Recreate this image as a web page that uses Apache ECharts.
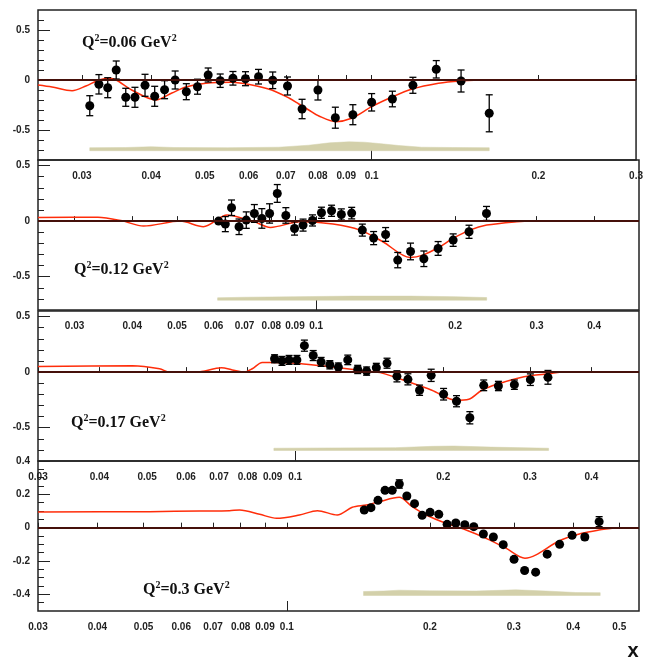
<!DOCTYPE html>
<html lang="en">
<head>
    <meta charset="UTF-8">
    <title>asymmetry vs x</title>
    <style>
        html, body { margin: 0; padding: 0; background: #fff; }
    </style>
</head>
<body>

<div id="main" style="width: 646px; height: 659px;"></div>

<script src="https://cdn.jsdelivr.net/npm/echarts@6/dist/echarts.min.js"></script>
<script>
    // ---- Q2 = 0.06 GeV2 ----
    var q1X = [0.031, 0.0322, 0.0334, 0.0346, 0.036, 0.0374, 0.039, 0.0406, 0.0423, 0.0442, 0.0463, 0.0485, 0.0507, 0.0533, 0.0562, 0.0592, 0.0625, 0.0663, 0.0705, 0.0749, 0.08, 0.086, 0.0925, 0.1, 0.109, 0.1187, 0.1308, 0.145, 0.163];
    var q1Y = [-0.257, -0.043, -0.077, 0.10, -0.173, -0.173, -0.053, -0.163, -0.097, 0.0, -0.117, -0.067, 0.05, -0.007, 0.017, 0.013, 0.033, -0.003, -0.06, -0.29, -0.1, -0.377, -0.347, -0.223, -0.19, -0.053, 0.107, -0.01, -0.333];
    var q1E = [0.1, 0.097, 0.1, 0.09, 0.09, 0.1, 0.11, 0.1, 0.09, 0.09, 0.08, 0.075, 0.07, 0.067, 0.068, 0.07, 0.073, 0.083, 0.09, 0.097, 0.1, 0.105, 0.1, 0.087, 0.078, 0.08, 0.087, 0.11, 0.185];
    var c1X = [0.025, 0.0265, 0.0288, 0.0305, 0.0322, 0.0336, 0.0346, 0.0369, 0.0408, 0.0436, 0.0462, 0.0502, 0.0559, 0.0608, 0.066, 0.0709, 0.0739, 0.077, 0.0803, 0.0861, 0.092, 0.1, 0.1086, 0.118, 0.132, 0.1446, 0.1605, 0.1766];
    var c1Y = [-0.05, -0.07, -0.107, -0.06, 0.0, 0.017, 0.0, -0.1, -0.2, -0.13, -0.07, -0.033, -0.023, -0.05, -0.1, -0.18, -0.24, -0.3, -0.36, -0.417, -0.383, -0.267, -0.173, -0.093, -0.033, -0.01, 0.0, 0.0];
    var b1X = [0.031, 0.036, 0.040, 0.044, 0.055, 0.068, 0.077, 0.084, 0.091, 0.097, 0.103, 0.112, 0.123, 0.14, 0.163];
    var b1Hi = [-0.677, -0.675, -0.667, -0.675, -0.677, -0.672, -0.652, -0.628, -0.618, -0.622, -0.635, -0.655, -0.672, -0.675, -0.677];
    var b1Lo = [-0.707, -0.707, -0.707, -0.707, -0.707, -0.707, -0.707, -0.707, -0.707, -0.707, -0.707, -0.707, -0.707, -0.707, -0.707];

    // ---- Q2 = 0.12 GeV2 ----
    var q2X = [0.0615, 0.0636, 0.0656, 0.0681, 0.0706, 0.0735, 0.0763, 0.0793, 0.0824, 0.086, 0.0898, 0.0937, 0.0982, 0.1027, 0.108, 0.1134, 0.1194, 0.1259, 0.1332, 0.1414, 0.1502, 0.1601, 0.1711, 0.1837, 0.198, 0.2143, 0.2338];
    var q2Y = [0.0, -0.027, 0.12, -0.051, 0.009, 0.069, 0.024, 0.069, 0.249, 0.051, -0.066, -0.036, 0.006, 0.075, 0.093, 0.06, 0.072, -0.081, -0.153, -0.12, -0.351, -0.273, -0.339, -0.246, -0.171, -0.096, 0.069];
    var q2E = [0.02, 0.068, 0.07, 0.07, 0.074, 0.08, 0.088, 0.087, 0.08, 0.07, 0.06, 0.054, 0.05, 0.05, 0.05, 0.05, 0.052, 0.054, 0.059, 0.062, 0.069, 0.075, 0.07, 0.062, 0.056, 0.059, 0.063];
    var c2X = [0.025, 0.0337, 0.038, 0.0423, 0.0508, 0.057, 0.0642, 0.0695, 0.0731, 0.0796, 0.0923, 0.1088, 0.1245, 0.1395, 0.1596, 0.1702, 0.1853, 0.1977, 0.2151, 0.234, 0.2717, 0.2943, 0.34];
    var c2Y = [0.033, 0.035, 0.003, -0.045, 0.0, -0.05, 0.054, 0.024, 0.0, -0.057, -0.006, -0.027, -0.081, -0.186, -0.327, -0.306, -0.231, -0.156, -0.081, -0.036, -0.006, 0.0, 0.0];
    var b2X = [0.0612, 0.07, 0.09, 0.12, 0.16, 0.2, 0.234];
    var b2Hi = [-0.69, -0.685, -0.68, -0.675, -0.675, -0.68, -0.688];
    var b2Lo = [-0.712, -0.712, -0.712, -0.712, -0.712, -0.712, -0.712];

    // ---- Q2 = 0.17 GeV2 ----
    var q3X = [0.0908, 0.094, 0.0972, 0.1008, 0.1044, 0.1088, 0.1129, 0.1176, 0.1224, 0.1279, 0.134, 0.1397, 0.1462, 0.1537, 0.161, 0.1695, 0.179, 0.189, 0.2003, 0.2128, 0.2265, 0.2417, 0.2589, 0.279, 0.3007, 0.3265];
    var q3Y = [0.12, 0.101, 0.11, 0.11, 0.238, 0.149, 0.092, 0.066, 0.045, 0.11, 0.024, 0.009, 0.039, 0.08, -0.038, -0.065, -0.163, -0.029, -0.199, -0.262, -0.411, -0.119, -0.125, -0.113, -0.068, -0.047];
    var q3E = [0.036, 0.04, 0.04, 0.04, 0.05, 0.045, 0.04, 0.037, 0.037, 0.043, 0.037, 0.037, 0.04, 0.045, 0.05, 0.05, 0.046, 0.055, 0.052, 0.05, 0.055, 0.048, 0.042, 0.042, 0.052, 0.062];
    var c3X = [0.03, 0.0467, 0.053, 0.0555, 0.063, 0.0708, 0.0745, 0.0788, 0.0818, 0.0857, 0.0915, 0.1019, 0.1189, 0.1393, 0.1502, 0.1703, 0.1896, 0.2121, 0.2254, 0.2395, 0.2593, 0.2808, 0.3025, 0.3275, 0.348];
    var c3Y = [0.051, 0.057, 0.03, 0.0, 0.0, 0.039, 0.02, 0.0, 0.03, 0.087, 0.087, 0.078, 0.045, 0.009, -0.009, -0.089, -0.163, -0.253, -0.244, -0.163, -0.104, -0.059, -0.03, -0.015, 0.0];
    var b3X = [0.0905, 0.12, 0.16, 0.19, 0.21, 0.25, 0.3275];
    var b3Hi = [-0.685, -0.682, -0.68, -0.668, -0.665, -0.675, -0.685];
    var b3Lo = [-0.705, -0.705, -0.705, -0.705, -0.705, -0.705, -0.705];

    // ---- Q2 = 0.3 GeV2 ----
    var q4X = [0.1455, 0.1503, 0.1555, 0.1609, 0.1666, 0.1724, 0.1788, 0.1856, 0.1926, 0.2001, 0.2087, 0.2173, 0.2266, 0.2367, 0.2472, 0.259, 0.2718, 0.2851, 0.3004, 0.3162, 0.3335, 0.3527, 0.3745, 0.3979, 0.4231, 0.4535];
    var q4Y = [0.106, 0.12, 0.164, 0.224, 0.224, 0.262, 0.19, 0.144, 0.074, 0.092, 0.08, 0.02, 0.028, 0.018, 0.006, -0.038, -0.056, -0.102, -0.19, -0.257, -0.267, -0.159, -0.1, -0.046, -0.056, 0.036];
    var q4E = [0.012, 0.012, 0.012, 0.012, 0.012, 0.025, 0.012, 0.012, 0.012, 0.012, 0.012, 0.012, 0.012, 0.012, 0.012, 0.012, 0.012, 0.012, 0.012, 0.012, 0.012, 0.012, 0.012, 0.012, 0.016, 0.03];
    var c4X = [0.03, 0.0515, 0.0656, 0.0758, 0.0796, 0.0877, 0.0952, 0.1063, 0.116, 0.1277, 0.1373, 0.147, 0.1565, 0.1723, 0.1835, 0.1963, 0.2163, 0.2382, 0.2624, 0.2889, 0.3167, 0.3341, 0.3733, 0.4172, 0.4528, 0.4916];
    var c4Y = [0.094, 0.096, 0.1, 0.102, 0.106, 0.08, 0.056, 0.076, 0.102, 0.076, 0.122, 0.136, 0.156, 0.182, 0.126, 0.076, 0.026, -0.014, -0.064, -0.123, -0.183, -0.163, -0.08, -0.034, -0.014, 0.0];
    var b4X = [0.145, 0.16, 0.1723, 0.2, 0.25, 0.303, 0.35, 0.405, 0.4558];
    var b4Hi = [-0.383, -0.38, -0.375, -0.379, -0.38, -0.373, -0.38, -0.389, -0.39];
    var b4Lo = [-0.407, -0.407, -0.407, -0.407, -0.407, -0.407, -0.407, -0.407, -0.407];

    // axis ranges and ticks
    var xRanges = [[0.025, 0.3], [0.025, 0.5], [0.03, 0.5], [0.03, 0.55]];
    var yRanges = [[-0.8, 0.7], [-0.8, 0.55], [-0.8, 0.55], [-0.5, 0.4]];
    var xTicks1 = [0.03, 0.04, 0.05, 0.06, 0.07, 0.08, 0.09, 0.1, 0.2, 0.3];
    var xTicks2 = [0.03, 0.04, 0.05, 0.06, 0.07, 0.08, 0.09, 0.1, 0.2, 0.3, 0.4];
    var xTicks4 = [0.03, 0.04, 0.05, 0.06, 0.07, 0.08, 0.09, 0.1, 0.2, 0.3, 0.4, 0.5];
    var yMajor = [-0.5, 0, 0.5];
    var yMajor4 = [-0.4, -0.2, 0, 0.2, 0.4];
    var yMinor1 = [-0.7, -0.6, -0.5, -0.4, -0.3, -0.2, -0.1, 0, 0.1, 0.2, 0.3, 0.4, 0.5, 0.6];
    var yMinor2 = [-0.7, -0.6, -0.5, -0.4, -0.3, -0.2, -0.1, 0, 0.1, 0.2, 0.3, 0.4, 0.5];
    var yMinor4 = [-0.45, -0.4, -0.35, -0.3, -0.25, -0.2, -0.15, -0.1, -0.05, 0, 0.05, 0.1, 0.15, 0.2, 0.25, 0.3, 0.35];
    var qLabels = ['0.06', '0.12', '0.17', '0.3'];

    var panels = [
        {px: q1X, py: q1Y, pe: q1E, cx: c1X, cy: c1Y, bx: b1X, bhi: b1Hi, blo: b1Lo, xt: xTicks1, ym: yMajor, yn: yMinor1, qx: 82, qy: 43},
        {px: q2X, py: q2Y, pe: q2E, cx: c2X, cy: c2Y, bx: b2X, bhi: b2Hi, blo: b2Lo, xt: xTicks2, ym: yMajor, yn: yMinor2, qx: 74, qy: 270},
        {px: q3X, py: q3Y, pe: q3E, cx: c3X, cy: c3Y, bx: b3X, bhi: b3Hi, blo: b3Lo, xt: xTicks2, ym: yMajor, yn: yMinor2, qx: 71, qy: 423},
        {px: q4X, py: q4Y, pe: q4E, cx: c4X, cy: c4Y, bx: b4X, bhi: b4Hi, blo: b4Lo, xt: xTicks4, ym: yMajor4, yn: yMinor4, qx: 143, qy: 590}
    ];
    var gridTops = [10, 160, 311, 461];

    var axisFont = {fontFamily: 'Liberation Sans', fontWeight: 'bold', fontSize: 10, color: '#222'};
    var tickLine = {color: '#222', width: 1};

    function fmtLog(v) {
        return String(parseFloat(Math.pow(10, v).toPrecision(3)));
    }

    var grids = [], xAxes = [], yAxes = [], series = [], graphics = [];

    panels.forEach(function (p, i) {
        var xr = xRanges[i], yr = yRanges[i];
        var logTicks = p.xt.map(function (t) { return Math.log10(t); });

        grids.push({left: 38, right: 7, top: gridTops[i], height: 150,
            show: true, borderColor: '#222', borderWidth: 1.5});

        // data axis (log)
        xAxes.push({gridIndex: i, type: 'log', logBase: 10, min: xr[0], max: xr[1],
            axisLine: {show: false}, axisTick: {show: false}, axisLabel: {show: false}, splitLine: {show: false}});
        // tick labels 0.03 0.04 ... drawn on a helper axis in log10 units
        xAxes.push({gridIndex: i, type: 'value', position: 'bottom',
            min: Math.log10(xr[0]), max: Math.log10(xr[1]),
            axisLine: {show: false},
            axisTick: {show: true, inside: true, length: 5, customValues: logTicks, lineStyle: tickLine},
            axisLabel: Object.assign({customValues: logTicks, formatter: fmtLog, margin: 11}, axisFont),
            splitLine: {show: false}});
        // longer tick at 0.1
        xAxes.push({gridIndex: i, type: 'value', position: 'bottom',
            min: Math.log10(xr[0]), max: Math.log10(xr[1]),
            axisLine: {show: false},
            axisTick: {show: true, inside: true, length: 10, customValues: [-1], lineStyle: tickLine},
            axisLabel: {show: false}, splitLine: {show: false}});

        yAxes.push({gridIndex: i, type: 'value', position: 'left', min: yr[0], max: yr[1],
            axisLine: {show: false},
            axisTick: {show: true, inside: true, length: 12, customValues: p.ym, lineStyle: tickLine},
            axisLabel: Object.assign({customValues: p.ym, formatter: function (v) { return String(v); }, margin: 8}, axisFont),
            splitLine: {show: false}});
        yAxes.push({gridIndex: i, type: 'value', position: 'left', min: yr[0], max: yr[1],
            axisLine: {show: false},
            axisTick: {show: true, inside: true, length: 6, customValues: p.yn, lineStyle: tickLine},
            axisLabel: {show: false}, splitLine: {show: false}});

        var xi = 3 * i, yi = 2 * i;

        // systematic band
        series.push({
            type: 'custom', xAxisIndex: xi, yAxisIndex: yi, silent: true, z: 1,
            data: p.bx.map(function (x, j) { return [x, p.blo[j], p.bhi[j]]; }),
            encode: {x: 0, y: [1, 2]},
            renderItem: function (params, api) {
                if (params.dataIndexInside !== 0) return;
                var top = [], bot = [];
                for (var j = 0; j < params.dataInsideLength; j++) {
                    top.push(api.coord([api.value(0, j), api.value(2, j)]));
                    bot.push(api.coord([api.value(0, j), api.value(1, j)]));
                }
                return {type: 'polygon', shape: {points: top.concat(bot.reverse())},
                    style: {fill: '#d3d0aa', stroke: '#d3d0aa', lineWidth: 0.5}};
            }
        });

        // model curve + zero line
        series.push({
            type: 'line', xAxisIndex: xi, yAxisIndex: yi, silent: true, z: 2,
            data: p.cx.map(function (x, j) { return [x, p.cy[j]]; }),
            showSymbol: false, smooth: 0.3,
            lineStyle: {color: '#ff2d0a', width: 1.5},
            markLine: {
                silent: true, symbol: ['none', 'none'], label: {show: false},
                lineStyle: {color: '#45100a', width: 2, type: 'solid'},
                data: [{yAxis: 0}]
            }
        });

        // error bars
        series.push({
            type: 'custom', xAxisIndex: xi, yAxisIndex: yi, silent: true, z: 3,
            data: p.px.map(function (x, j) { return [x, p.py[j] - p.pe[j], p.py[j] + p.pe[j]]; }),
            encode: {x: 0, y: [1, 2]},
            renderItem: function (params, api) {
                var lo = api.coord([api.value(0), api.value(1)]);
                var hi = api.coord([api.value(0), api.value(2)]);
                var w = 3.5;
                var st = {stroke: '#000', lineWidth: 1.3};
                return {type: 'group', children: [
                    {type: 'line', shape: {x1: lo[0], y1: lo[1], x2: hi[0], y2: hi[1]}, style: st},
                    {type: 'line', shape: {x1: lo[0] - w, y1: lo[1], x2: lo[0] + w, y2: lo[1]}, style: st},
                    {type: 'line', shape: {x1: hi[0] - w, y1: hi[1], x2: hi[0] + w, y2: hi[1]}, style: st}
                ]};
            }
        });

        // data points
        series.push({
            type: 'scatter', xAxisIndex: xi, yAxisIndex: yi, silent: true, z: 4,
            data: p.px.map(function (x, j) { return [x, p.py[j]]; }),
            symbol: 'circle', symbolSize: 9,
            itemStyle: {color: '#000', opacity: 1}
        });

        graphics.push({
            type: 'text', x: p.qx, y: p.qy, z: 10,
            style: {
                text: '{m|Q}{s|2}{m|=' + qLabels[i] + ' GeV}{s|2}',
                verticalAlign: 'middle',
                rich: {
                    m: {fontFamily: 'Liberation Serif', fontWeight: 'bold', fontSize: 16, lineHeight: 20, fill: '#111'},
                    s: {fontFamily: 'Liberation Serif', fontWeight: 'bold', fontSize: 10, verticalAlign: 'top', fill: '#111'}
                }
            }
        });
    });

    graphics.push({
        type: 'text', x: 633, y: 651, z: 10,
        style: {text: 'x', align: 'center', verticalAlign: 'middle',
            font: 'bold 20px "Liberation Sans"', fill: '#111'}
    });

    var myChart = echarts.init(document.getElementById('main'));
    var option = {
        animation: false,
        backgroundColor: '#fff',
        grid: grids,
        xAxis: xAxes,
        yAxis: yAxes,
        series: series,
        graphic: graphics
    };
    myChart.setOption(option);
</script>
</body>
</html>
